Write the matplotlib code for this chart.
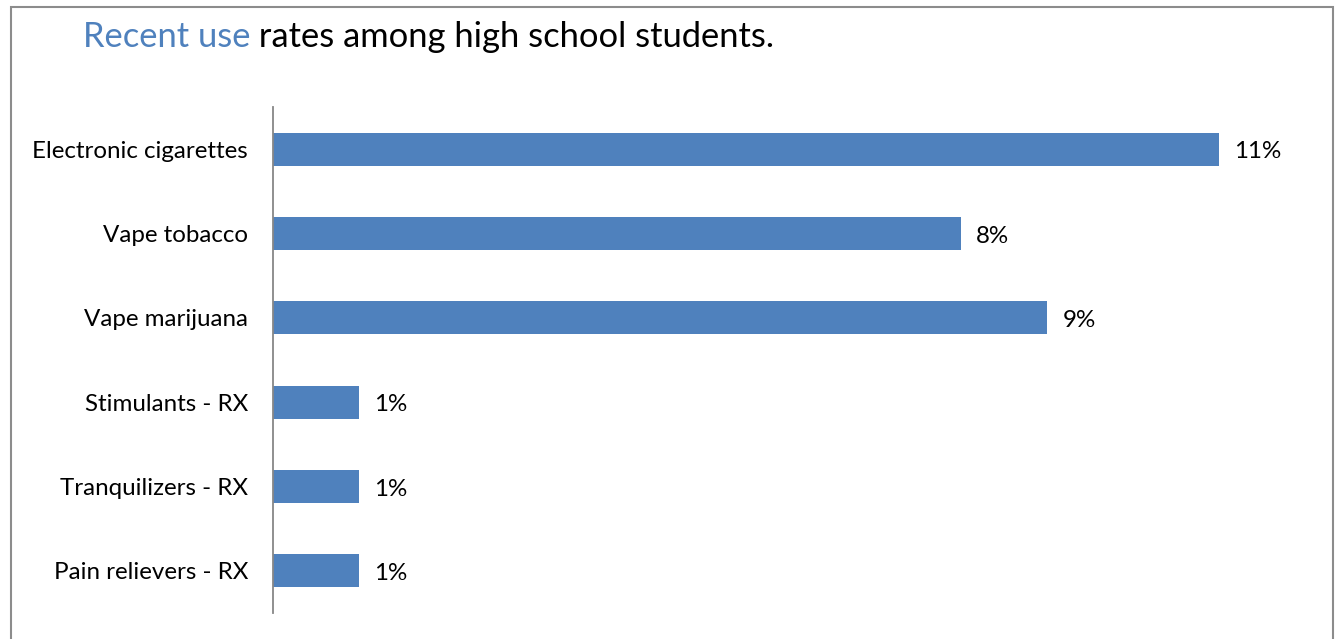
import matplotlib.pyplot as plt
from matplotlib.patches import Rectangle

plt.rcParams['font.family'] = ['Lato', 'DejaVu Sans']

# data
categories = ['Electronic cigarettes', 'Vape tobacco', 'Vape marijuana',
              'Stimulants - RX', 'Tranquilizers - RX', 'Pain relievers - RX']
values = [11, 8, 9, 1, 1, 1]
labels = ['11%', '8%', '9%', '1%', '1%', '1%']

bar_color = '#4F81BD'

fig = plt.figure(figsize=(13.4, 6.39), dpi=100)
ax = fig.add_axes([273 / 1340, 26 / 639, (1300 - 273) / 1340, 506 / 639])

y = list(range(len(categories)))
bars = ax.barh(y, values, height=0.39, color=bar_color)
ax.set_ylim(len(categories) - 0.5, -0.5)
ax.set_xlim(0, 1027 / 86)

ax.set_yticks(y)
ax.set_yticklabels(categories, fontsize=17.4)
ax.tick_params(axis='y', length=0, pad=18)
ax.set_xticks([])
for side in ['top', 'right', 'bottom']:
    ax.spines[side].set_visible(False)
ax.spines['left'].set_color('#878787')
ax.spines['left'].set_linewidth(1.3)

for rect, lab in zip(bars, labels):
    ax.annotate(lab, xy=(rect.get_width(), rect.get_y() + rect.get_height() / 2),
                xytext=(11, -2), textcoords='offset points',
                ha='left', va='center', fontsize=17.4)

# title in two colours
t1 = fig.text(83 / 1340, 1 - 37 / 639, 'Recent use', fontsize=24.8,
              color=bar_color, ha='left', va='center')
ax.annotate(' rates among high school students.', xy=(1, 0), xycoords=t1,
            ha='left', va='bottom', fontsize=24.8, color='black',
            annotation_clip=False)

# outer frame
fig.patches.append(Rectangle((11 / 1340, -0.05), (1333 - 11) / 1340, 1.05 - 7 / 639,
                             transform=fig.transFigure, fill=False,
                             edgecolor='#8c8c8c', linewidth=1.5))

plt.savefig('out.png', dpi=100)
